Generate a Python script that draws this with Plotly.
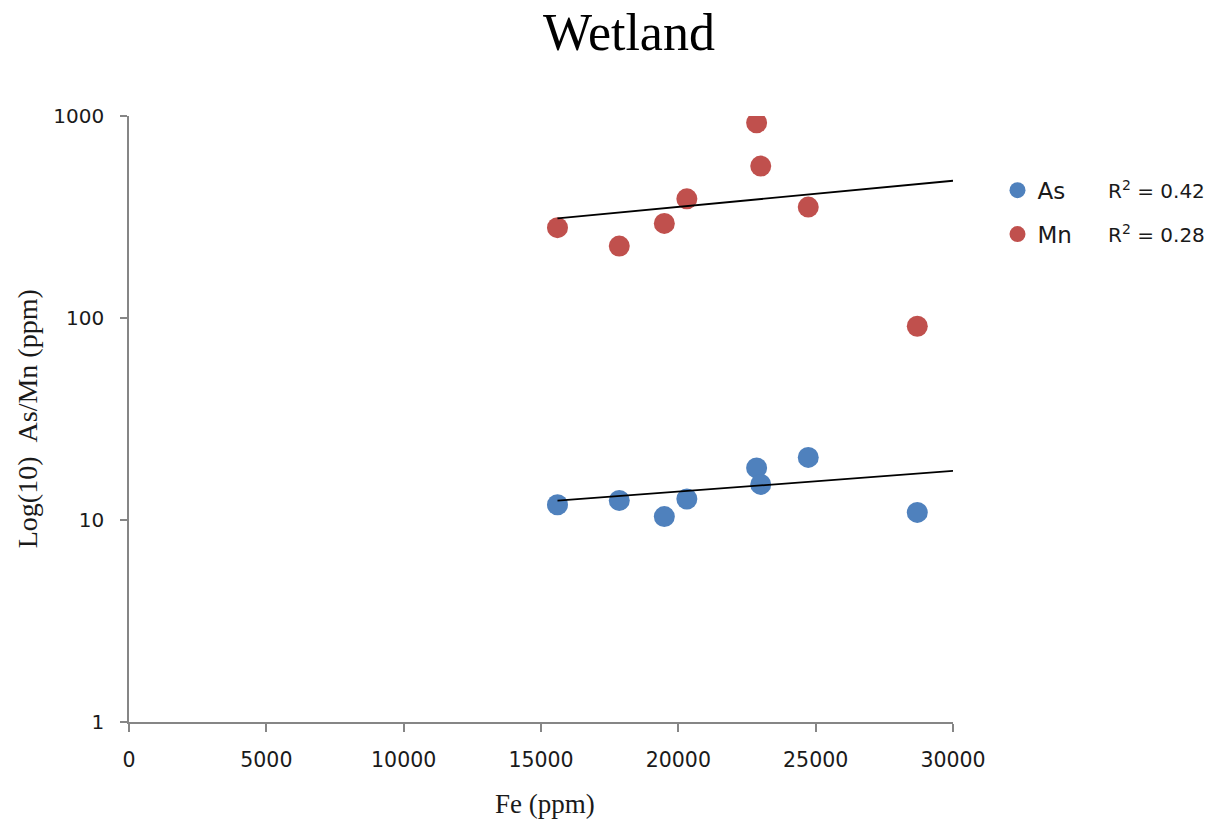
import plotly.graph_objects as go

# Fe concentration of each wetland sample (ppm)
fe_ppm = [15600, 17850, 19490, 20310, 22850, 23000, 24730, 28700]

# As and Mn concentrations of the same samples (ppm)
as_ppm = [11.9, 12.5, 10.4, 12.7, 18.1, 15.0, 20.4, 10.9]
mn_ppm = [280, 227, 294, 389, 925, 565, 354, 91]

# Trendline end points (Fe, value)
trend_fe = [15600, 30000]
as_trend = [12.47, 17.49]
mn_trend = [311.4, 477.9]

r2_labels = ["R<sup>2</sup> = 0.42", "R<sup>2</sup> = 0.28"]

y_ticks = [1, 10, 100, 1000]
x_ticks = [0, 5000, 10000, 15000, 20000, 25000, 30000]

BLUE = "#4F81BD"
RED = "#C0504D"
AXIS = "#868686"
TXT = "#1a1a1a"

fig = go.Figure()

fig.add_trace(go.Scatter(
    x=fe_ppm, y=as_ppm, mode="markers", name="As",
    legendgroup="as",
    marker=dict(color=BLUE, size=21, line=dict(width=0)),
))
fig.add_trace(go.Scatter(
    x=fe_ppm, y=mn_ppm, mode="markers", name="Mn",
    legendgroup="mn",
    marker=dict(color=RED, size=21, line=dict(width=0)),
))
fig.add_trace(go.Scatter(
    x=trend_fe, y=as_trend, mode="lines", showlegend=False,
    line=dict(color="black", width=1.8),
))
fig.add_trace(go.Scatter(
    x=trend_fe, y=mn_trend, mode="lines", showlegend=False,
    line=dict(color="black", width=1.8),
))

annotations = [
    dict(text="Fe (ppm)", xref="paper", yref="paper", x=0.505, y=-0.135,
         xanchor="center", yanchor="middle", showarrow=False,
         font=dict(family="Liberation Serif", size=27, color=TXT)),
    dict(text="Log(10)\u00a0\u00a0As/Mn (ppm)", xref="paper", yref="paper",
         x=-0.1235, y=0.5, xanchor="center", yanchor="middle", textangle=-90,
         showarrow=False,
         font=dict(family="Liberation Serif", size=28, color=TXT)),
]
for label, ypos in zip(r2_labels, [0.878, 0.806]):
    annotations.append(dict(
        text=label, xref="paper", yref="paper", x=1.186, y=ypos,
        xanchor="left", yanchor="middle", showarrow=False,
        font=dict(family="DejaVu Sans", size=20, color=TXT)))

fig.update_layout(
    width=1218, height=827,
    paper_bgcolor="white", plot_bgcolor="white",
    margin=dict(l=129, r=265, t=116, b=105, autoexpand=False),
    title=dict(text="Wetland", x=0.5164, y=0.9613, xref="container",
               yref="container", xanchor="center", yanchor="middle",
               font=dict(family="Liberation Serif", size=52, color="black")),
    legend=dict(x=1.054, y=0.913, xanchor="left", yanchor="top",
                traceorder="grouped", tracegroupgap=11,
                font=dict(family="DejaVu Sans", size=23, color=TXT),
                bgcolor="rgba(0,0,0,0)"),
    annotations=annotations,
    xaxis=dict(range=[0, 30000], tickvals=x_ticks, tickformat="d",
               showgrid=False, zeroline=False, showline=True,
               linecolor=AXIS, linewidth=1.5, ticks="outside", ticklen=8,
               tickcolor=AXIS, tickwidth=1.5, ticklabelstandoff=11,
               tickfont=dict(family="DejaVu Sans", size=20.5, color=TXT)),
    yaxis=dict(type="log", range=[0, 3], tickvals=y_ticks,
               ticktext=[str(v) for v in y_ticks],
               showgrid=False, zeroline=False, showline=True,
               linecolor=AXIS, linewidth=1.5, ticks="outside", ticklen=7,
               tickcolor=AXIS, tickwidth=1.5, ticklabelstandoff=12,
               tickfont=dict(family="DejaVu Sans", size=20, color=TXT)),
)

fig.write_html("out.html")
